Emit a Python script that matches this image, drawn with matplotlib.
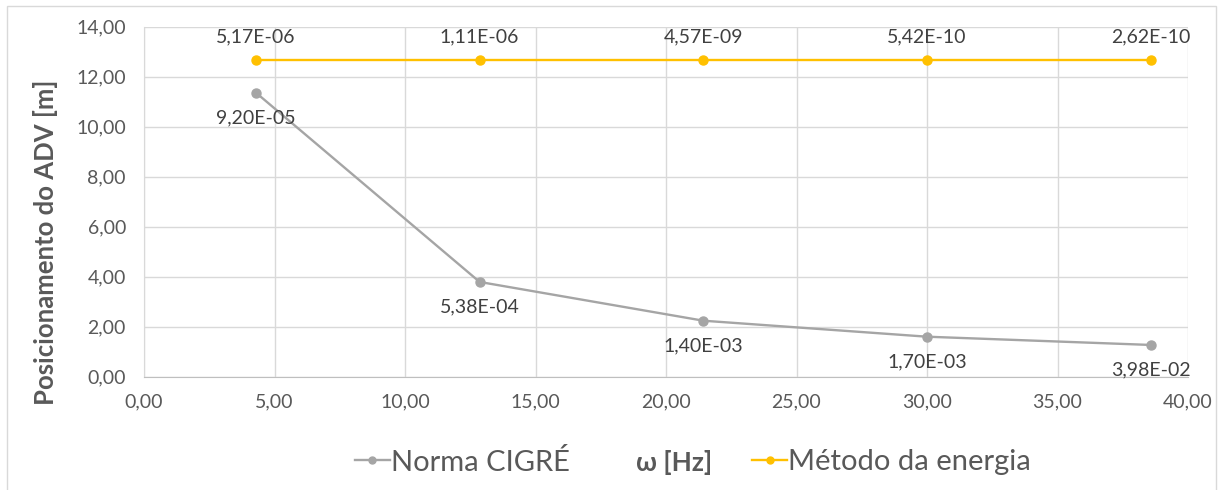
import matplotlib
matplotlib.use("Agg")
import matplotlib.pyplot as plt
from matplotlib.patches import Rectangle
from matplotlib.lines import Line2D
from matplotlib.ticker import FuncFormatter, MultipleLocator

plt.rcParams['font.family'] = ['Lato', 'DejaVu Sans']

# Frequencies (Hz) and ADV positions (m)
omega = [4.29, 12.86, 21.43, 30.00, 38.57]
pos_cigre = [11.36, 3.79, 2.24, 1.60, 1.27]
pos_energia = [12.67, 12.67, 12.67, 12.67, 12.67]

labels_cigre = ["9,20E-05", "5,38E-04", "1,40E-03", "1,70E-03", "3,98E-02"]
labels_energia = ["5,17E-06", "1,11E-06", "4,57E-09", "5,42E-10", "2,62E-10"]

series_names = ["Norma CIGRÉ", "Método da energia"]

GRAY = "#a5a5a5"
GOLD = "#ffc000"
TXT = "#595959"
LBL = "#404040"
GRID = "#d9d9d9"

fig = plt.figure(figsize=(12.18, 4.90), dpi=100)
ax = fig.add_axes([144 / 1218, 1 - 376.7 / 490, (1188 - 144) / 1218, (376.7 - 26.7) / 490])

# outer chart frame
fig.patches.append(Rectangle((7 / 1218, -10 / 490), 1209 / 1218, 494 / 490,
                             transform=fig.transFigure, fill=False,
                             edgecolor=GRID, linewidth=1.0))

ax.plot(omega, pos_cigre, color=GRAY, linewidth=1.7, marker="o",
        markersize=6.5, zorder=4, solid_capstyle="round")
ax.plot(omega, pos_energia, color=GOLD, linewidth=1.7, marker="o",
        markersize=6.5, zorder=4, solid_capstyle="round")

for x, y, t in zip(omega, pos_cigre, labels_cigre):
    ax.annotate(t, (x, y), xytext=(0, -18), textcoords="offset points",
                ha="center", va="center", fontsize=14, color=LBL, zorder=5)
for x, y, t in zip(omega, pos_energia, labels_energia):
    ax.annotate(t, (x, y), xytext=(0, 16.5), textcoords="offset points",
                ha="center", va="center", fontsize=14, color=LBL, zorder=5)

ax.set_xlim(0, 40)
ax.set_ylim(0, 14)
ax.xaxis.set_major_locator(MultipleLocator(5))
ax.yaxis.set_major_locator(MultipleLocator(2))
fmt = FuncFormatter(lambda v, _: f"{v:.2f}".replace(".", ","))
ax.xaxis.set_major_formatter(fmt)
ax.yaxis.set_major_formatter(fmt)
ax.tick_params(axis="both", length=0, labelsize=14, labelcolor=TXT)
ax.tick_params(axis="x", pad=12)
ax.tick_params(axis="y", pad=13)
ax.grid(True, color=GRID, linewidth=1.0)
ax.set_axisbelow(True)
for side in ("top", "right"):
    ax.spines[side].set_visible(False)
ax.spines["left"].set_color(GRID)
ax.spines["bottom"].set_color("#bfbfbf")

fig.text(45 / 1218, 1 - 242 / 490, "Posicionamento do ADV [m]", rotation=90,
         ha="center", va="center", fontsize=18.5, fontweight="bold", color=TXT)
fig.text(674 / 1218, 1 - 462 / 490, "ω [Hz]", ha="center", va="center",
         fontsize=19, fontweight="bold", color=TXT)

h1 = Line2D([], [], color=GRAY, linewidth=1.7, marker="o", markersize=5)
h2 = Line2D([], [], color=GOLD, linewidth=1.7, marker="o", markersize=5)
leg_kw = dict(frameon=False, fontsize=21, handlelength=1.2, handletextpad=0.05,
              borderpad=0, borderaxespad=0, labelcolor=TXT)
fig.legend([h1], [series_names[0]], loc="center right",
           bbox_to_anchor=(570 / 1218, 1 - 462 / 490), **leg_kw)
fig.legend([h2], [series_names[1]], loc="center left",
           bbox_to_anchor=(752 / 1218, 1 - 462 / 490), **leg_kw)

fig.savefig("out.png", dpi=100)
